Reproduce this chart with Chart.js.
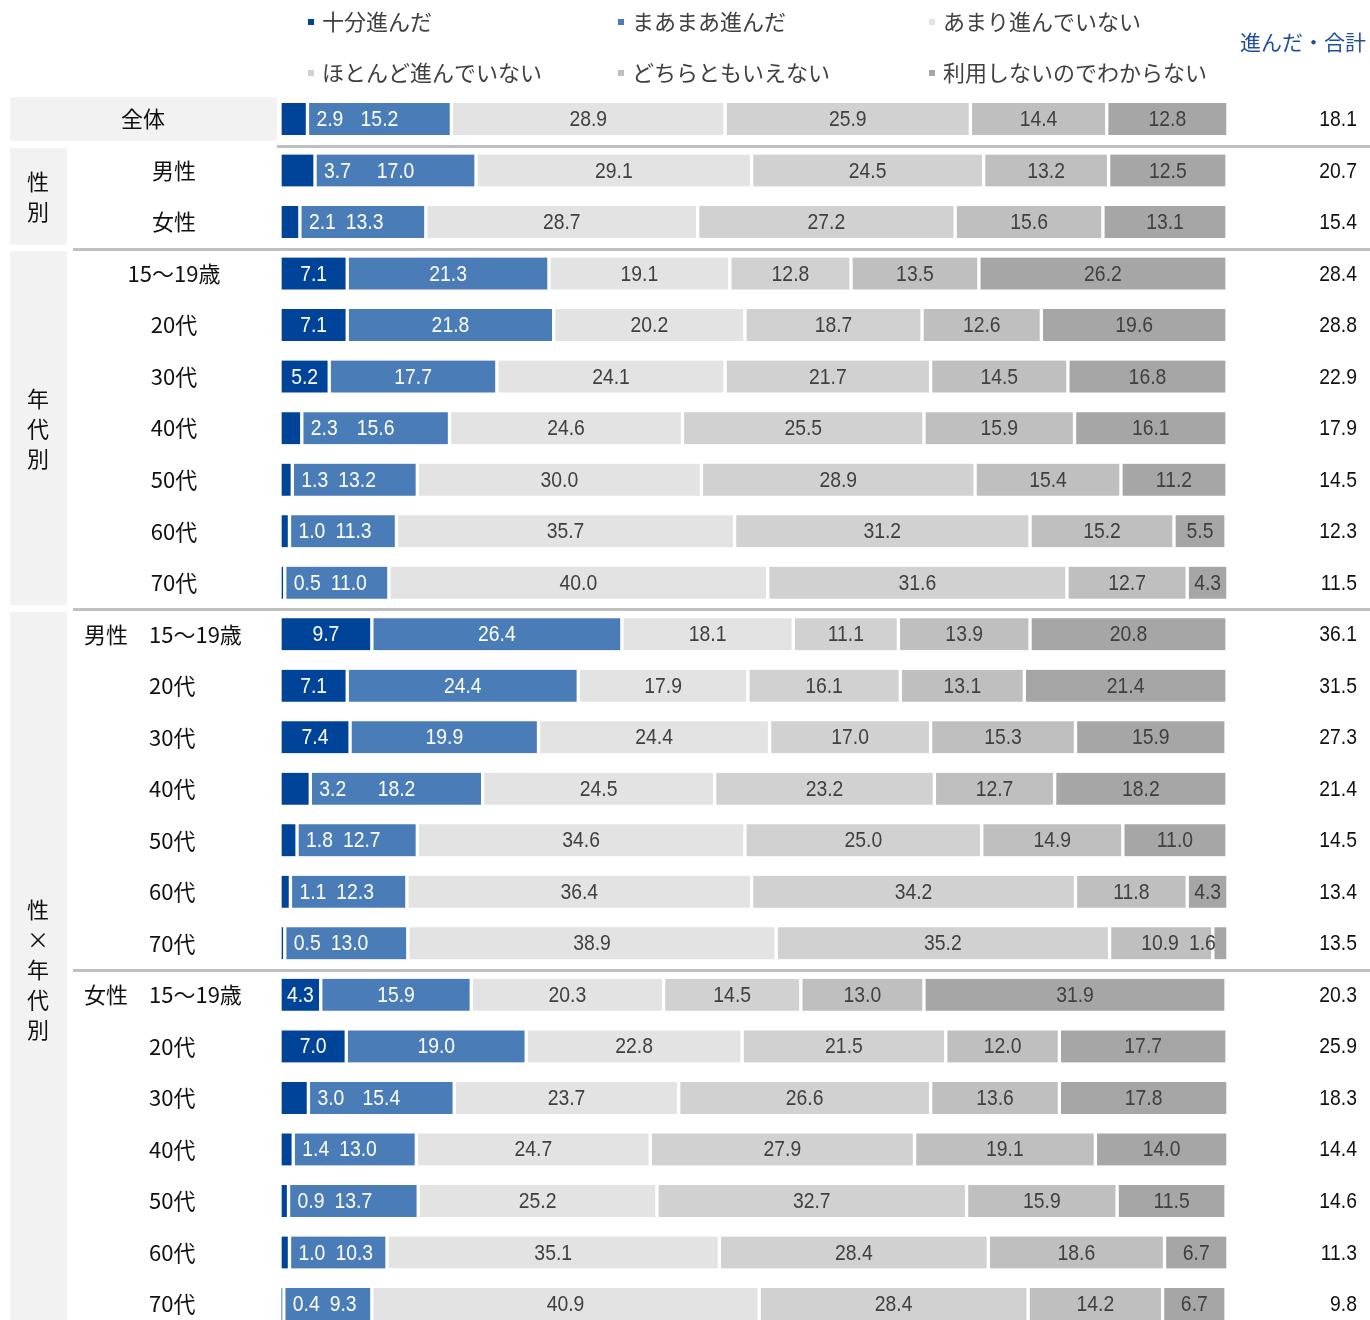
<!DOCTYPE html>
<html lang="ja">
<head>
<meta charset="utf-8">
<title>進んだ・合計</title>
<script src="https://cdn.jsdelivr.net/npm/chart.js@4/dist/chart.umd.min.js"></script>
<style>
  html, body { margin: 0; padding: 0; background: #fff; overflow: hidden; }
  #wrap { width: 1370px; height: 1320px; overflow: hidden; position: relative; }
  canvas { display: block; }
</style>
</head>
<body>
<div id="wrap"><canvas id="chart" width="1370" height="1330"></canvas></div>
<script>
// ---- data ----
const seriesNames = ['十分進んだ', 'まあまあ進んだ', 'あまり進んでいない', 'ほとんど進んでいない', 'どちらともいえない', '利用しないのでわからない'];
const seriesColors = ['#00449a', '#4a7db7', '#e3e3e3', '#d1d1d1', '#bfbfbf', '#a6a6a6'];

const rowLabels = ['全体', '男性', '女性',
  '15〜19歳', '20代', '30代', '40代', '50代', '60代', '70代',
  '15〜19歳', '20代', '30代', '40代', '50代', '60代', '70代',
  '15〜19歳', '20代', '30代', '40代', '50代', '60代', '70代'];
const rowPrefix = ['', '', '', '', '', '', '', '', '', '',
  '男性', '', '', '', '', '', '',
  '女性', '', '', '', '', '', ''];

const juubun    = [2.9, 3.7, 2.1, 7.1, 7.1, 5.2, 2.3, 1.3, 1.0, 0.5, 9.7, 7.1, 7.4, 3.2, 1.8, 1.1, 0.5, 4.3, 7.0, 3.0, 1.4, 0.9, 1.0, 0.4];
const maamaa    = [15.2, 17.0, 13.3, 21.3, 21.8, 17.7, 15.6, 13.2, 11.3, 11.0, 26.4, 24.4, 19.9, 18.2, 12.7, 12.3, 13.0, 15.9, 19.0, 15.4, 13.0, 13.7, 10.3, 9.3];
const amari     = [28.9, 29.1, 28.7, 19.1, 20.2, 24.1, 24.6, 30.0, 35.7, 40.0, 18.1, 17.9, 24.4, 24.5, 34.6, 36.4, 38.9, 20.3, 22.8, 23.7, 24.7, 25.2, 35.1, 40.9];
const hotondo   = [25.9, 24.5, 27.2, 12.8, 18.7, 21.7, 25.5, 28.9, 31.2, 31.6, 11.1, 16.1, 17.0, 23.2, 25.0, 34.2, 35.2, 14.5, 21.5, 26.6, 27.9, 32.7, 28.4, 28.4];
const dochira   = [14.4, 13.2, 15.6, 13.5, 12.6, 14.5, 15.9, 15.4, 15.2, 12.7, 13.9, 13.1, 15.3, 12.7, 14.9, 11.8, 10.9, 13.0, 12.0, 13.6, 19.1, 15.9, 18.6, 14.2];
const wakaranai = [12.8, 12.5, 13.1, 26.2, 19.6, 16.8, 16.1, 11.2, 5.5, 4.3, 20.8, 21.4, 15.9, 18.2, 11.0, 4.3, 1.6, 31.9, 17.7, 17.8, 14.0, 11.5, 6.7, 6.7];

const totalHeader = '進んだ・合計';
const totals = [18.1, 20.7, 15.4, 28.4, 28.8, 22.9, 17.9, 14.5, 12.3, 11.5, 36.1, 31.5, 27.3, 21.4, 14.5, 13.4, 13.5, 20.3, 25.9, 18.3, 14.4, 14.6, 11.3, 9.8];

// side groups: label drawn vertically in a shaded box spanning rows first..last
const groupNames = ['性別', '年代別', '性×年代別'];
const groupFirst = [1, 3, 10];
const groupLast  = [2, 9, 23];
const separatorAfter = [0, 2, 9, 16];

const seriesValues = [juubun, maamaa, amari, hotondo, dochira, wakaranai];

// ---- styling ----
const JP_FONT = '"Noto Sans CJK JP", "Noto Sans", sans-serif';
const NUM_FONT = '22px "Liberation Sans", Arial, sans-serif';
const NUM_SX = 0.88;      // horizontal condensing of the figures
const BORDER = 2;
const BOX_FILL = '#f2f2f2';
const RULE = '#c0c0c0';
const DARK_TEXT = '#404040';

function numWidth(ctx, txt) {
  ctx.save();
  ctx.font = NUM_FONT;
  const w = ctx.measureText(txt).width * NUM_SX;
  ctx.restore();
  return w;
}
function drawNum(ctx, txt, x, y, align, color) {
  ctx.save();
  ctx.font = NUM_FONT;
  ctx.fillStyle = color;
  ctx.textBaseline = 'middle';
  ctx.textAlign = align;
  ctx.translate(x, y);
  ctx.scale(NUM_SX, 1);
  ctx.fillText(txt, 0, 1);
  ctx.restore();
}
function drawJp(ctx, txt, x, y, align, size, color) {
  ctx.save();
  ctx.font = size + 'px ' + JP_FONT;
  ctx.fillStyle = color;
  ctx.textBaseline = 'middle';
  ctx.textAlign = align;
  ctx.fillText(txt, x, y);
  ctx.restore();
}

// panel: shaded boxes, row labels, separators, legend, totals
const panelPlugin = {
  id: 'panel',
  beforeDatasetsDraw(chart) {
    const ctx = chart.ctx;
    const y = chart.scales.y;
    const band = (chart.chartArea.bottom - chart.chartArea.top) / rowLabels.length;
    const rowY = i => y.getPixelForValue(i);

    // overall row box
    ctx.fillStyle = BOX_FILL;
    ctx.fillRect(10, rowY(0) - band / 2 + 4, 267, band - 8);
    // group boxes
    groupNames.forEach((g, k) => {
      const top = rowY(groupFirst[k]) - band / 2 + 3.5;
      const bot = rowY(groupLast[k]) + band / 2 - 3;
      ctx.fillStyle = BOX_FILL;
      ctx.fillRect(10, top, 57, bot - top);
      const chars = Array.from(g);
      const mid = (top + bot) / 2;
      chars.forEach((ch, c) => {
        drawJp(ctx, ch, 38, mid + (c - (chars.length - 1) / 2) * 30, 'center', 22, '#111');
      });
    });

    // separators
    separatorAfter.forEach((r, k) => {
      const yy = Math.round(rowY(r) + band / 2) + 1.5;
      ctx.strokeStyle = RULE;
      ctx.lineWidth = 3;
      ctx.beginPath();
      ctx.moveTo(k === 0 ? 277 : 73, yy);
      ctx.lineTo(1370, yy);
      ctx.stroke();
    });

    // row labels
    rowLabels.forEach((lab, i) => {
      const yy = rowY(i);
      if (i === 0) {
        drawJp(ctx, lab, 143, yy, 'center', 22, '#111');
      } else if (i < 10) {
        drawJp(ctx, lab, 174, yy, 'center', 22, '#111');
      } else {
        drawJp(ctx, lab, 149, yy, 'left', 22, '#111');
      }
      if (rowPrefix[i]) drawJp(ctx, rowPrefix[i], 84, yy, 'left', 22, '#111');
    });

    // totals column
    drawJp(ctx, totalHeader, 1366, 42, 'right', 21, '#1f4e9c');
    totals.forEach((t, i) => drawNum(ctx, t.toFixed(1), 1357, rowY(i), 'right', '#111'));

    // legend: two rows of three
    const colX = [308, 618, 929];
    const rowLY = [22, 73];
    chart.data.datasets.forEach((ds, i) => {
      const lx = colX[i % 3], ly = rowLY[Math.floor(i / 3)];
      ctx.fillStyle = ds.backgroundColor;
      ctx.fillRect(lx, ly - 3, 6, 6);
      drawJp(ctx, ds.label, lx + 14, ly, 'left', 22, DARK_TEXT);
    });
  },
  afterDatasetsDraw(chart) {
    const ctx = chart.ctx;
    const metas = chart.data.datasets.map((d, i) => chart.getDatasetMeta(i));
    const n = metas.length;
    for (let j = 0; j < rowLabels.length; j++) {
      const pos = metas.map((m, i) => {
        const el = m.data[j];
        const v = chart.data.datasets[i].data[j];
        const txt = v.toFixed(1);
        const w = numWidth(ctx, txt);
        const l = Math.min(el.base, el.x) + BORDER;
        const r = Math.max(el.base, el.x) - BORDER;
        return { txt, w, l, r, cx: (l + r) / 2, x: (l + r) / 2, align: 'center', y: el.y };
      });
      // a first segment too narrow for its figure: put it at the start of the next one
      const p0 = pos[0], p1 = pos[1];
      if (p0.w + 8 > p0.r - p0.l) {
        p0.align = 'left';
        p0.x = p1.l + 7;
        const lim = p0.x + p0.w + 10;
        if (p1.cx - p1.w / 2 < lim) { p1.align = 'left'; p1.x = lim; }
      }
      // a last segment too narrow: right-align against its own start
      const pl = pos[n - 1], pp = pos[n - 2];
      if (pl.w + 8 > pl.r - pl.l) {
        pl.align = 'right';
        pl.x = pl.l + 1;
        const lim = pl.x - pl.w - 10;
        if (pp.cx + pp.w / 2 > lim) { pp.align = 'right'; pp.x = lim; }
      }
      pos.forEach((p, i) => {
        const onBlue = i < 2 || (i === 0);
        drawNum(ctx, p.txt, p.x, p.y, p.align, onBlue ? '#ffffff' : DARK_TEXT);
      });
    }
  }
};

const ROW_STEP = (1304 - 119) / 23;
const TOP = 119 - ROW_STEP / 2;
const BOTTOM_PAD = 1330 - (TOP + ROW_STEP * rowLabels.length);

new Chart(document.getElementById('chart'), {
  type: 'bar',
  data: {
    labels: rowLabels,
    datasets: seriesNames.map((name, i) => ({
      label: name,
      data: seriesValues[i],
      backgroundColor: seriesColors[i],
      borderColor: '#ffffff',
      borderWidth: { left: BORDER, right: BORDER, top: 0, bottom: 0 },
      borderSkipped: false,
      barThickness: 32
    }))
  },
  options: {
    indexAxis: 'y',
    responsive: false,
    animation: false,
    events: [],
    layout: { padding: { left: 280, right: 143, top: TOP, bottom: BOTTOM_PAD } },
    scales: {
      x: { type: 'linear', stacked: true, min: 0, max: 100, display: false },
      y: { stacked: true, display: false }
    },
    plugins: { legend: { display: false }, tooltip: { enabled: false } }
  },
  plugins: [panelPlugin]
});
</script>
</body>
</html>
